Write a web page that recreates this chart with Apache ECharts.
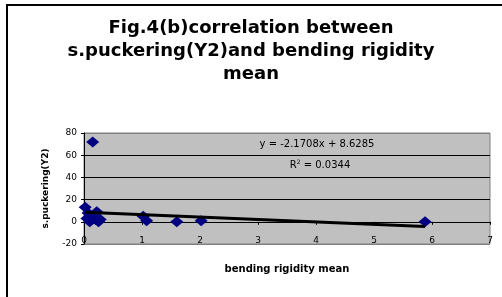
<!DOCTYPE html>
<html lang="en">
<head>
    <meta charset="UTF-8">
    <title>Fig.4(b)</title>
    <script src="https://cdn.jsdelivr.net/npm/echarts@6/dist/echarts.min.js"></script>
    <style>
        html, body { margin: 0; padding: 0; background: #fff; }
    </style>
</head>
<body>
<div id="main" style="width: 502px;height:297px;"></div>
<script>
    // measured points (bending rigidity mean, s.puckering Y2)
    var rigidity = [0.02, 0.05, 0.07, 0.10, 0.12, 0.15, 0.20, 0.22, 0.25, 0.28, 1.02, 1.08, 1.60, 2.02, 5.88];
    var puckering = [13, 3, 8, 0, 4, 72, 2, 9, 0, 2, 5, 1, 0, 1, 0];

    // excel linear trendline
    var slope = -2.1708;
    var intercept = 8.6285;
    var eqText = 'y = -2.1708x + 8.6285';
    var r2Value = '0.0344';

    var points = [];
    for (var i = 0; i < rigidity.length; i++) {
        points.push([rigidity[i], puckering[i]]);
    }
    var xMin = Math.min.apply(null, rigidity);
    var xMax = Math.max.apply(null, rigidity);
    var trend = [[xMin, slope * xMin + intercept], [xMax, slope * xMax + intercept]];

    var myChart = echarts.init(document.getElementById('main'));

    var option = {
        backgroundColor: '#fff',
        animation: false,
        title: {
            text: 'Fig.4(b)correlation between\ns.puckering(Y2)and bending rigidity\nmean',
            left: 'center',
            top: 12,
            textStyle: {
                fontFamily: 'DejaVu Sans',
                fontWeight: 'bold',
                fontSize: 18,
                lineHeight: 23,
                color: '#000'
            }
        },
        grid: {
            left: 84,
            right: 12,
            top: 133,
            bottom: 53,
            show: true,
            backgroundColor: '#c0c0c0',
            borderColor: '#808080',
            borderWidth: 1
        },
        xAxis: {
            type: 'value',
            min: 0,
            max: 7,
            interval: 1,
            name: 'bending rigidity mean',
            nameLocation: 'middle',
            nameGap: 20,
            nameTextStyle: {
                fontFamily: 'DejaVu Sans',
                fontWeight: 'bold',
                fontSize: 10,
                color: '#000'
            },
            axisLine: { show: true, onZero: true, lineStyle: { color: '#000', width: 1 } },
            axisTick: { show: true, length: 3, lineStyle: { color: '#000' } },
            axisLabel: {
                margin: -8,
                fontFamily: 'DejaVu Sans',
                fontSize: 9,
                color: '#000'
            },
            splitLine: { show: false }
        },
        yAxis: {
            type: 'value',
            min: -20,
            max: 80,
            interval: 20,
            name: 's.puckering(Y2)',
            nameLocation: 'middle',
            nameGap: 34,
            nameTextStyle: {
                fontFamily: 'DejaVu Sans',
                fontWeight: 'bold',
                fontSize: 9,
                color: '#000'
            },
            axisLine: { show: true, onZero: false, lineStyle: { color: '#000', width: 1 } },
            axisTick: { show: true, length: 3, lineStyle: { color: '#000' } },
            axisLabel: {
                margin: 7,
                fontFamily: 'DejaVu Sans',
                fontSize: 9,
                color: '#000'
            },
            splitLine: {
                show: true,
                lineStyle: { color: ['#808080', '#000', '#000', '#000', '#000', '#808080'], width: 1 }
            }
        },
        graphic: [
            {
                type: 'rect',
                shape: { x: 7, y: 5, width: 520, height: 320 },
                style: { fill: 'none', stroke: '#000', lineWidth: 2 },
                silent: true
            },
            {
                type: 'text',
                x: 317, y: 144,
                style: {
                    text: eqText,
                    fontFamily: 'DejaVu Sans', fontSize: 10, fill: '#000',
                    align: 'center', verticalAlign: 'middle'
                },
                z: 10
            },
            {
                type: 'text',
                x: 320, y: 165,
                style: {
                    text: '{a|R}{s|2}{a| = ' + r2Value + '}',
                    align: 'center', verticalAlign: 'middle',
                    rich: {
                        a: { fontFamily: 'DejaVu Sans', fontSize: 10, color: '#000' },
                        s: { fontFamily: 'DejaVu Sans', fontSize: 6, color: '#000', padding: [0, 0, 6, 0] }
                    }
                },
                z: 10
            }
        ],
        series: [
            {
                name: 'points',
                type: 'scatter',
                data: points,
                symbol: 'diamond',
                symbolSize: [13, 11],
                itemStyle: { color: '#000080', opacity: 1 },
                z: 2
            },
            {
                name: 'trend',
                type: 'line',
                data: trend,
                showSymbol: false,
                symbol: 'none',
                lineStyle: { color: '#000', width: 3 },
                z: 3
            }
        ]
    };
    myChart.setOption(option);
</script>
</body>
</html>
